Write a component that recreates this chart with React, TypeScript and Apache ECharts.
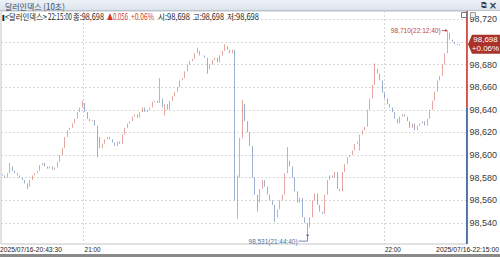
import React, { useEffect, useRef } from "react";
import * as echarts from "echarts";

const TITLE = "달러인덱스 (10초)";
const START_SECONDS = 20 * 3600 + 43 * 60 + 30;
const STEP_SECONDS = 30;
const SLOT_COUNT = 186;

const FIRST_OPEN = 98583;
const closes: number[] = [
  98582, 98580, 98584, 98590, 98586, 98584, 98582, 98580, 98578, 98575,
  98572, 98578, 98582, 98584, 98586, 98591, 98593, 98590, 98588, 98590,
  98587, 98589, 98594, 98600, 98606, 98616, 98622, 98624, 98628, 98632,
  98638, 98642, 98646, 98638, 98632, 98630, 98631, 98626, 98616, 98606,
  98610, 98614, 98616, 98614, 98611, 98608, 98612, 98610, 98618, 98624,
  98628, 98630, 98634, 98636, 98633, 98638, 98642, 98638, 98640, 98642,
  98647, 98648, 98646, 98650, 98642, 98645, 98640, 98648, 98652, 98656,
  98660, 98666, 98668, 98674, 98680, 98683, 98685, 98690, 98692, 98688,
  98688, 98686, 98676, 98680, 98684, 98686, 98682, 98688, 98692, 98696,
  98693, 98690, 98693, 98560, 98580, 98615, 98645, 98630, 98620, 98608,
  98580, 98565, 98558, 98570, 98578, 98572, 98565, 98560, 98556, 98545,
  98552, 98560, 98565, 98584, 98595, 98590, 98580, 98568, 98558, 98562,
  98545, 98540, 98536, 98545, 98560, 98566, 98556, 98550, 98548, 98565,
  98578, 98582, 98580, 98585, 98570, 98568, 98585, 98592, 98598, 98600,
  98604, 98610, 98612, 98618, 98622, 98625, 98640, 98650, 98662, 98676,
  98672, 98666, 98655, 98650, 98645, 98642, 98638, 98632, 98628, 98634,
  98636, 98634, 98630, 98624, 98628, 98622, 98626, 98628, 98630, 98626,
  98632, 98640, 98648, 98656, 98666, 98670, 98680, 98690, 98708, 98702,
  98700, 98698, 98697, 98698,
];
// extra wick extremes: [candle index, value]
const wickHighs: [number, number][] = [
  [3, 98593], [32, 98648], [63, 98668], [78, 98695], [89, 98698],
  [94, 98582], [96, 98649], [114, 98607], [149, 98681], [178, 98710],
];
const wickLows: [number, number][] = [
  [10, 98570], [38, 98598], [65, 98635], [82, 98672], [94, 98544],
  [102, 98550], [109, 98541], [122, 98531], [143, 98604],
];

const Y_TICKS = [98540, 98560, 98580, 98600, 98620, 98640, 98660, 98680, 98700, 98720];
const Y_MIN = 98521.4;
const Y_MAX = 98727.3;
const PREV_CLOSE = 98642;
const LAST_PRICE_TEXT = "98,698";
const LAST_CHANGE_TEXT = "+0.06%";
const HIGH_LABEL = "98,710(22:12:40)";
const LOW_LABEL = "98,531(21:44:40)";
const X_LABEL_FIRST = "2025/07/16-20:43:30";
const X_LABEL_LAST = "2025/07/16-22:15:00";
const X_MID_LABELS: [number, string][] = [[33, "21:00"], [153, "22:00"]];
// info line segments: [text, left x, width, is change colour]
const INFO_SEGMENTS: [string, number, number, boolean][] = [
  ["▮", 1.5, 3, false],
  ["<달러인덱스>", 5, 42, false],
  ["22:15:00", 48, 24, false],
  ["종:98,698", 73, 31, false],
  ["▲0.056", 107, 21, true],
  ["+0.06%", 131, 23, true],
  ["시:98,698", 158, 32, false],
  ["고:98,698", 193, 31, false],
  ["저:98,698", 227, 32, false],
];

const UP = "#d56a5f";
const DOWN = "#5a7eb0";
const RED_AXIS = "#d8342a";
const BLUE_AXIS = "#2d5a96";
const LABEL_FONT = "'Liberation Sans', Arial, sans-serif";
const KR_FONT = "'Noto Sans CJK KR', 'Noto Sans', sans-serif";

function pad(n: number) {
  return n < 10 ? "0" + n : "" + n;
}
const times: string[] = Array.from({ length: SLOT_COUNT }, (_, i) => {
  const s = START_SECONDS + i * STEP_SECONDS;
  return `${pad(Math.floor(s / 3600))}:${pad(Math.floor((s % 3600) / 60))}:${pad(s % 60)}`;
});

const highMap = new Map(wickHighs);
const lowMap = new Map(wickLows);
const candles = closes.map((c, i) => {
  const o = i === 0 ? FIRST_OPEN : closes[i - 1];
  const hi = Math.max(o, c, highMap.get(i) ?? -Infinity);
  const lo = Math.min(o, c, lowMap.get(i) ?? Infinity);
  return [o, c, lo, hi];
});
const lastClose = closes[closes.length - 1];
// the last-price box hides any price label that sits beneath it
const visibleLabelTicks = Y_TICKS.filter((v) => Math.abs(v - lastClose) > 10);

function fmt(v: number) {
  return v.toLocaleString("en-US");
}

function textWidth(text: string, fontSize: number, fontFamily: string) {
  const t = new echarts.graphic.Text({ style: { text, fontSize, fontFamily } });
  return t.getBoundingRect().width || 1;
}
function fitScale(text: string, fontSize: number, fontFamily: string, target: number) {
  return target / textWidth(text, fontSize, fontFamily);
}

export default function App() {
  const ref = useRef<HTMLDivElement>(null);
  useEffect(() => {
    const chart = echarts.init(ref.current!, null, { renderer: "svg" });
    chart.setOption({
      animation: false,
      backgroundColor: "#ffffff",
      grid: {
        left: 1,
        right: 33,
        top: 11,
        bottom: 13,
        show: true,
        borderColor: "#c4c4c4",
        borderWidth: 1,
        backgroundColor: "#ffffff",
      },
      xAxis: {
        type: "category",
        data: times,
        boundaryGap: true,
        axisLine: { show: false },
        axisTick: { show: false },
        axisLabel: { show: false },
        splitLine: {
          show: true,
          interval: (idx: number) => X_MID_LABELS.some(([k]) => k === idx),
          lineStyle: { color: "#d4d4d4", type: [2, 2], width: 1 },
        },
      },
      yAxis: {
        type: "value",
        position: "right",
        min: Y_MIN,
        max: Y_MAX,
        scale: true,
        axisLine: { show: false },
        axisTick: { show: false, customValues: Y_TICKS },
        axisLabel: {
          customValues: visibleLabelTicks,
          formatter: (v: number) => fmt(v),
          fontSize: 9,
          fontFamily: LABEL_FONT,
          color: "#3a3a3a",
          margin: 3,
        },
        splitLine: { show: true, lineStyle: { color: "#d8d8d8", type: [2, 2], width: 1 } },
      },
      series: [
        {
          type: "candlestick",
          data: candles,
          barWidth: 1,
          itemStyle: {
            color: UP,
            color0: DOWN,
            borderColor: UP,
            borderColor0: DOWN,
            borderWidth: 0.6,
          },
        },
      ],
    });

    const px = (i: number, v: number) => chart.convertToPixel({ gridIndex: 0 }, [i, v]) as number[];
    const lastIdx = closes.length - 1;
    const [, yLast] = px(lastIdx, lastClose);
    const [, yPrev] = px(lastIdx, PREV_CLOSE);
    const [, yTop] = px(0, Y_MAX);
    const [, yBot] = px(0, Y_MIN);
    let hiIdx = 0;
    let loIdx = 0;
    candles.forEach((c, i) => {
      if (c[3] > candles[hiIdx][3]) hiIdx = i;
      if (c[2] < candles[loIdx][2]) loIdx = i;
    });
    const [hx, hy] = px(hiIdx, candles[hiIdx][3]);
    const [lx, ly] = px(loIdx, candles[loIdx][2]);
    const axisX = 467;
    const bandW = px(1, Y_MIN)[0] - px(0, Y_MIN)[0];
    const tickX = (i: number) => px(i, Y_MIN)[0] - bandW / 2;

    const graphic: any[] = [
      // title bar
      {
        type: "rect",
        shape: { x: 0, y: 0, width: 500, height: 10 },
        style: {
          fill: new echarts.graphic.LinearGradient(0, 0, 0, 1, [
            { offset: 0, color: "#eef2f7" },
            { offset: 1, color: "#dce3ec" },
          ]),
        },
        z: 10,
      },
      { type: "line", shape: { x1: 0, y1: 10.5, x2: 500, y2: 10.5 }, style: { stroke: "#b9c3cf", lineWidth: 1 }, z: 10 },
      {
        type: "text",
        x: 5,
        y: 5.5,
        scaleX: fitScale(TITLE, 8.5, KR_FONT, 60),
        style: { text: TITLE, fontSize: 8.5, fontFamily: KR_FONT, fill: "#3a4a60", verticalAlign: "middle" },
        z: 11,
      },
      {
        type: "text",
        x: 484,
        y: 5.5,
        style: { text: "⧉", fontSize: 8, fontFamily: "'DejaVu Sans'", fill: "#2b3f5c", verticalAlign: "middle", align: "center" },
        z: 11,
      },
      {
        type: "text",
        x: 493,
        y: 5.5,
        style: { text: "×", fontSize: 10, fontWeight: "bold", fontFamily: "'DejaVu Sans'", fill: "#2b3f5c", verticalAlign: "middle", align: "center" },
        z: 11,
      },
      // info line
      ...INFO_SEGMENTS.map(([text, x, w, isChange]) => ({
        type: "text",
        x,
        y: 16,
        scaleX: Math.min(1.3, fitScale(text, 8.5, KR_FONT, w)),
        style: {
          text,
          fontSize: 8.5,
          fontFamily: KR_FONT,
          fill: isChange ? "#d0352b" : "#222222",
          verticalAlign: "middle",
        },
        z: 11,
      })),
      // small window icons at top of price axis
      { type: "rect", shape: { x: 461.5, y: 12.5, width: 5, height: 5 }, style: { fill: "#fff", stroke: "#777", lineWidth: 1 }, z: 11 },
      { type: "rect", shape: { x: 470.5, y: 12.5, width: 5, height: 5 }, style: { fill: "#eee", stroke: "#999", lineWidth: 1 }, z: 11 },
      // price axis line split at previous close
      { type: "line", shape: { x1: axisX, y1: yTop, x2: axisX, y2: yPrev }, style: { stroke: RED_AXIS, lineWidth: 1.6 }, z: 9 },
      { type: "line", shape: { x1: axisX, y1: yPrev, x2: axisX, y2: yBot }, style: { stroke: BLUE_AXIS, lineWidth: 1.6 }, z: 9 },
      // last price box
      {
        type: "polygon",
        shape: {
          points: [
            [axisX + 1, yLast],
            [axisX + 5, yLast - 9.5],
            [500, yLast - 9.5],
            [500, yLast + 9.5],
            [axisX + 5, yLast + 9.5],
          ],
        },
        style: { fill: "#a9322a" },
        z: 12,
      },
      {
        type: "text",
        x: 485.5,
        y: yLast - 4.8,
        style: { text: LAST_PRICE_TEXT, fontSize: 8, fontFamily: LABEL_FONT, fill: "#ffffff", align: "center", verticalAlign: "middle" },
        z: 13,
      },
      {
        type: "text",
        x: 485.5,
        y: yLast + 4.8,
        style: { text: LAST_CHANGE_TEXT, fontSize: 8, fontFamily: LABEL_FONT, fill: "#ffffff", align: "center", verticalAlign: "middle" },
        z: 13,
      },
      // high annotation
      {
        type: "text",
        x: hx - 7,
        y: hy,
        scaleX: fitScale(HIGH_LABEL, 8, LABEL_FONT, 50),
        style: { text: HIGH_LABEL, fontSize: 8, fontFamily: LABEL_FONT, fill: "#c0463c", align: "right", verticalAlign: "middle" },
        z: 12,
      },
      { type: "line", shape: { x1: hx - 6, y1: hy, x2: hx - 1, y2: hy }, style: { stroke: "#c0463c", lineWidth: 0.8 }, z: 12 },
      {
        type: "polygon",
        shape: { points: [[hx, hy], [hx - 2.5, hy - 1.5], [hx - 2.5, hy + 1.5]] },
        style: { fill: "#c0463c" },
        z: 12,
      },
      // low annotation
      {
        type: "text",
        x: lx - 10,
        y: ly + 8,
        scaleX: fitScale(LOW_LABEL, 8, LABEL_FONT, 49),
        style: { text: LOW_LABEL, fontSize: 8, fontFamily: LABEL_FONT, fill: "#4a6fa5", align: "right", verticalAlign: "middle" },
        z: 12,
      },
      {
        type: "polyline",
        shape: { points: [[lx - 9, ly + 8], [lx, ly + 8], [lx, ly + 1]] },
        style: { stroke: "#4a6fa5", lineWidth: 0.8, fill: "none" },
        z: 12,
      },
      {
        type: "polygon",
        shape: { points: [[lx, ly], [lx - 1.5, ly + 2.5], [lx + 1.5, ly + 2.5]] },
        style: { fill: "#4a6fa5" },
        z: 12,
      },
      // bottom time axis
      { type: "rect", shape: { x: 0, y: 254, width: 500, height: 3 }, style: { fill: "#8a8a8a" }, z: 10 },
      {
        type: "text",
        x: 0,
        y: 249.5,
        scaleX: fitScale(X_LABEL_FIRST, 8, LABEL_FONT, 62),
        style: { text: X_LABEL_FIRST, fontSize: 8, fontFamily: LABEL_FONT, fill: "#222", align: "left", verticalAlign: "middle" },
        z: 11,
      },
      {
        type: "text",
        x: 499,
        y: 249.5,
        scaleX: fitScale(X_LABEL_LAST, 8, LABEL_FONT, 63),
        style: { text: X_LABEL_LAST, fontSize: 8, fontFamily: LABEL_FONT, fill: "#222", align: "right", verticalAlign: "middle" },
        z: 11,
      },
      ...X_MID_LABELS.map(([k, label]) => ({
        type: "text",
        x: tickX(k) + 1,
        y: 249.5,
        scaleX: fitScale(label, 8, LABEL_FONT, 16),
        style: { text: label, fontSize: 8, fontFamily: LABEL_FONT, fill: "#222", align: "left", verticalAlign: "middle" },
        z: 11,
      })),
    ];
    chart.setOption({ graphic });
    return () => chart.dispose();
  }, []);
  return (
    <div
      ref={ref}
      style={{ position: "fixed", left: 0, top: 0, width: 500, height: 257, background: "#fff" }}
    />
  );
}
